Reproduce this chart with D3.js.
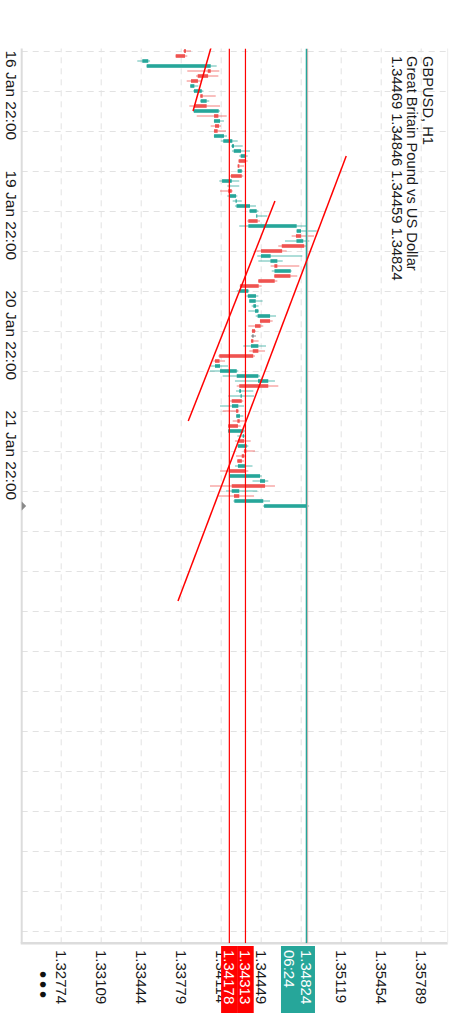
<!DOCTYPE html>
<html>
<head>
<meta charset="utf-8">
<script src="https://cdn.jsdelivr.net/npm/d3@7"></script>
<style>
  html, body { margin: 0; padding: 0; background: #fff; }
  svg { display: block; font-family: "Liberation Sans", Arial, sans-serif; }
</style>
</head>
<body>
<svg id="chart" width="450" height="1025"></svg>
<script>
// chart data (hourly bars, index 0 = 16 Jan 22:00)
const symbol = "GBPUSD, H1"
const description = "Great Britain Pound vs US Dollar"

const opens = [
  1.33815, 1.33807, 1.33449, 1.33486, 1.34022, 1.34000, 1.33915, 1.33851, 1.33882, 1.33955,
  1.33938, 1.33988, 1.33880, 1.34086, 1.34050, 1.34092, 1.34080, 1.34050, 1.34127, 1.34200,
  1.34215, 1.34273, 1.34310, 1.34262, 1.34248, 1.34282, 1.34117, 1.34175, 1.34198, 1.34178,
  1.34230, 1.34238, 1.34348, 1.34405, 1.34415, 1.34337, 1.34742, 1.34778, 1.34740, 1.34805,
  1.34620, 1.34443, 1.34522, 1.34580, 1.34556, 1.34690, 1.34558, 1.34424, 1.34262, 1.34333,
  1.34345, 1.34379, 1.34393, 1.34415, 1.34519, 1.34440, 1.34393, 1.34380, 1.34379, 1.34359,
  1.34421, 1.34378, 1.34096, 1.34058, 1.34100, 1.34240, 1.34418, 1.34504, 1.34261, 1.34272,
  1.34282, 1.34200, 1.34253, 1.34236, 1.34265, 1.34250, 1.34169, 1.34290, 1.34301, 1.34250,
  1.34320, 1.34303, 1.34283, 1.34250, 1.34310, 1.34180, 1.34435, 1.34477, 1.34198, 1.34261,
  1.34220, 1.34469
]
const highs = [
  1.33857, 1.33826, 1.33514, 1.34072, 1.34094, 1.34086, 1.33947, 1.33918, 1.33960, 1.34064,
  1.34010, 1.34100, 1.34100, 1.34156, 1.34133, 1.34108, 1.34150, 1.34158, 1.34248, 1.34290,
  1.34351, 1.34332, 1.34332, 1.34301, 1.34290, 1.34295, 1.34261, 1.34261, 1.34206, 1.34245,
  1.34282, 1.34401, 1.34421, 1.34496, 1.34435, 1.34820, 1.34910, 1.34887, 1.34848, 1.34826,
  1.34658, 1.34789, 1.34625, 1.34764, 1.34700, 1.34747, 1.34580, 1.34449, 1.34345, 1.34421,
  1.34457, 1.34423, 1.34426, 1.34569, 1.34541, 1.34462, 1.34401, 1.34401, 1.34423, 1.34485,
  1.34477, 1.34393, 1.34142, 1.34167, 1.34253, 1.34435, 1.34560, 1.34588, 1.34379, 1.34385,
  1.34295, 1.34301, 1.34261, 1.34295, 1.34309, 1.34273, 1.34309, 1.34309, 1.34357, 1.34337,
  1.34393, 1.34318, 1.34301, 1.34372, 1.34337, 1.34449, 1.34504, 1.34560, 1.34412, 1.34385,
  1.34519, 1.34846
]
const lows = [
  1.33790, 1.33727, 1.33407, 1.33484, 1.33826, 1.33899, 1.33821, 1.33849, 1.33874, 1.33932,
  1.33932, 1.33843, 1.33874, 1.33905, 1.34048, 1.34022, 1.34048, 1.34048, 1.34106, 1.34192,
  1.34200, 1.34261, 1.34254, 1.34246, 1.34246, 1.34184, 1.34094, 1.34161, 1.34100, 1.34161,
  1.34206, 1.34225, 1.34343, 1.34401, 1.34328, 1.34261, 1.34740, 1.34700, 1.34644, 1.34588,
  1.34407, 1.34412, 1.34421, 1.34524, 1.34533, 1.34552, 1.34418, 1.34265, 1.34240, 1.34321,
  1.34343, 1.34365, 1.34337, 1.34399, 1.34433, 1.34337, 1.34365, 1.34359, 1.34358, 1.34295,
  1.34345, 1.34086, 1.34044, 1.34022, 1.34016, 1.34122, 1.34225, 1.34240, 1.34234, 1.34169,
  1.34184, 1.34100, 1.34122, 1.34234, 1.34206, 1.34167, 1.34167, 1.34245, 1.34225, 1.34243,
  1.34298, 1.34234, 1.34243, 1.34225, 1.34100, 1.34178, 1.34372, 1.34016, 1.34150, 1.34086,
  1.34212, 1.34459
]
const closes = [
  1.33798, 1.33729, 1.33499, 1.34022, 1.33997, 1.33913, 1.33857, 1.33885, 1.33947, 1.33935,
  1.33988, 1.33882, 1.34089, 1.34050, 1.34100, 1.34058, 1.34050, 1.34133, 1.34203, 1.34217,
  1.34276, 1.34309, 1.34256, 1.34248, 1.34282, 1.34192, 1.34198, 1.34184, 1.34169, 1.34234,
  1.34240, 1.34351, 1.34407, 1.34412, 1.34337, 1.34742, 1.34778, 1.34736, 1.34797, 1.34617,
  1.34443, 1.34524, 1.34580, 1.34555, 1.34692, 1.34555, 1.34421, 1.34267, 1.34337, 1.34401,
  1.34399, 1.34401, 1.34421, 1.34519, 1.34435, 1.34393, 1.34368, 1.34380, 1.34360, 1.34421,
  1.34374, 1.34094, 1.34058, 1.34100, 1.34240, 1.34421, 1.34504, 1.34261, 1.34276, 1.34282,
  1.34198, 1.34253, 1.34234, 1.34267, 1.34245, 1.34169, 1.34295, 1.34301, 1.34253, 1.34323,
  1.34301, 1.34282, 1.34245, 1.34309, 1.34178, 1.34435, 1.34477, 1.34198, 1.34261, 1.34217,
  1.34462, 1.34824
]

const priceTicks = [1.32774, 1.33109, 1.33444, 1.33779, 1.34114, 1.34449, 1.34784, 1.35119, 1.35454, 1.35789]
const timeLabelBars = [0, 24, 48, 72]
const timeLabelTexts = ["16 Jan 22:00", "19 Jan 22:00", "20 Jan 22:00", "21 Jan 22:00"]

const levelPrices = [1.34313, 1.34178]
const askPrice = 1.34834
const countdown = "06:24"

// trend lines as [bar, price] end points
const trendLines = [
  [[-1, 1.34028], [12, 1.33874]],
  [[30, 1.34560], [74, 1.33834]],
  [[21, 1.35157], [110, 1.33748]]
]

const up = "#26a69a", down = "#ef5350"
const fmt = d3.format(".5f")

// the chart is laid out landscape (1025 x 450) and turned a quarter clockwise
const W = 1025, H = 450
const plot = {left: 48.5, right: 943.3, top: 2.3, bottom: 428.3}

const svg = d3.select("#chart")
const g = svg.append("g").attr("transform", `translate(${H},0) rotate(90)`)

const x = d3.scaleLinear().domain([0, 100]).range([51, 551])
const y = d3.scaleLinear().domain([1.32774, 1.35789]).range([388.3, 28.3])

g.append("clipPath").attr("id", "plotClip")
  .append("rect")
    .attr("x", plot.left).attr("y", plot.top)
    .attr("width", plot.right - plot.left).attr("height", plot.bottom - plot.top)

// time grid + labels
const timeAxis = d3.axisBottom(x)
  .tickValues(d3.range(0, 177, 8))
  .tickSize(-(plot.bottom - plot.top))
  .tickPadding(4.5)
  .tickFormat(d => {
    let k = timeLabelBars.indexOf(d)
    return k >= 0 ? timeLabelTexts[k] : ""
  })

g.append("g")
  .attr("transform", `translate(0,${plot.bottom})`)
  .call(timeAxis)
  .call(a => a.select(".domain").remove())
  .call(a => a.selectAll("line")
    .attr("stroke", "#e2e2e2").attr("stroke-dasharray", "6,5"))
  .call(a => a.selectAll("text")
    .attr("text-anchor", "start").attr("dx", -1)
    .attr("fill", "#1a1a1a").style("font-size", "15.5px"))

// price grid + labels
const priceAxis = d3.axisRight(y)
  .tickValues(priceTicks)
  .tickSize(-(plot.right - plot.left))
  .tickPadding(6.7)
  .tickFormat(fmt)

g.append("g")
  .attr("transform", `translate(${plot.right},0)`)
  .call(priceAxis)
  .call(a => a.select(".domain").remove())
  .call(a => a.selectAll("line")
    .attr("stroke", "#e2e2e2").attr("stroke-dasharray", "6,5"))
  .call(a => a.selectAll("text")
    .attr("fill", "#1a1a1a").style("font-size", "15px"))

// frame
g.append("line")
  .attr("x1", plot.left).attr("x2", plot.right)
  .attr("y1", plot.bottom).attr("y2", plot.bottom)
  .attr("stroke", "#dcdcdc").attr("stroke-width", 2)
g.append("line")
  .attr("x1", plot.right).attr("x2", plot.right)
  .attr("y1", plot.top).attr("y2", plot.bottom + 1)
  .attr("stroke", "#dcdcdc").attr("stroke-width", 2.5)
g.append("line")
  .attr("x1", plot.left).attr("x2", plot.right)
  .attr("y1", plot.top).attr("y2", plot.top)
  .attr("stroke", "#ececec").attr("stroke-width", 1)

// title
g.append("g").selectAll("text")
  .data([symbol, description, [opens, highs, lows, closes].map(s => fmt(s[s.length - 1])).join(" ")])
  .enter().append("text")
    .attr("x", 56)
    .attr("y", (d, i) => 27.3 + i * 15.6)
    .attr("fill", "#1a1a1a")
    .style("font-size", "14.7px")
    .text(d => d)

const bars = d3.range(opens.length).map(i => ({
  i: i, o: opens[i], h: highs[i], l: lows[i], c: closes[i]
}))
const colorOf = d => d.c > d.o ? up : d.c < d.o ? down : "#5f6368"

const candles = g.append("g").attr("clip-path", "url(#plotClip)")

candles.selectAll("line.wick")
  .data(bars)
  .enter().append("line")
    .attr("class", "wick")
    .attr("x1", d => x(d.i)).attr("x2", d => x(d.i))
    .attr("y1", d => y(d.h)).attr("y2", d => y(d.l))
    .attr("stroke", colorOf)
    .attr("stroke-opacity", 0.75)
    .attr("stroke-width", 1)

candles.selectAll("rect.body")
  .data(bars)
  .enter().append("rect")
    .attr("class", "body")
    .attr("x", d => x(d.i) - 1.8)
    .attr("width", 3.6)
    .attr("y", d => Math.min(y(d.o), y(d.c)))
    .attr("height", d => Math.max(Math.abs(y(d.o) - y(d.c)), 1))
    .attr("fill", colorOf)

// price levels
candles.selectAll("line.level")
  .data(levelPrices)
  .enter().append("line")
    .attr("class", "level")
    .attr("x1", plot.left).attr("x2", plot.right)
    .attr("y1", d => y(d)).attr("y2", d => y(d))
    .attr("stroke", "#ff0000").attr("stroke-width", 1.2)

const bid = closes[closes.length - 1]
candles.append("line")
  .attr("x1", plot.left).attr("x2", plot.right)
  .attr("y1", y(askPrice)).attr("y2", y(askPrice))
  .attr("stroke", "#f3b0b0").attr("stroke-width", 1)
candles.append("line")
  .attr("x1", plot.left).attr("x2", plot.right)
  .attr("y1", y(bid)).attr("y2", y(bid))
  .attr("stroke", up).attr("stroke-width", 1.5)

// trend lines
candles.selectAll("line.trend")
  .data(trendLines)
  .enter().append("line")
    .attr("class", "trend")
    .attr("x1", d => x(d[0][0])).attr("y1", d => y(d[0][1]))
    .attr("x2", d => x(d[1][0])).attr("y2", d => y(d[1][1]))
    .attr("stroke", "#ff0000").attr("stroke-width", 1.5)

// current bar marker on the time axis
const lastX = x(opens.length - 1)
g.append("path")
  .attr("d", `M${lastX - 4.5},${plot.bottom} L${lastX + 4.5},${plot.bottom} L${lastX},${plot.bottom - 4.5} Z`)
  .attr("fill", "#8a8a8a")

// price tags
const tags = g.append("g")
tags.selectAll("rect.lv")
  .data(levelPrices)
  .enter().append("rect")
    .attr("class", "lv")
    .attr("x", plot.right + 2.7).attr("width", 67)
    .attr("y", d => y(d) - 8.25).attr("height", 16.5)
    .attr("fill", "#ff0000")
tags.selectAll("text.lv")
  .data(levelPrices)
  .enter().append("text")
    .attr("class", "lv")
    .attr("x", plot.right + 6.7).attr("y", d => y(d))
    .attr("dy", "0.35em")
    .attr("fill", "#fff")
    .style("font-size", "15px")
    .text(fmt)

tags.append("rect")
  .attr("x", plot.right + 2.7).attr("width", 67)
  .attr("y", y(bid) - 8.5).attr("height", 34)
  .attr("fill", up)
tags.selectAll("text.bid")
  .data([fmt(bid), countdown])
  .enter().append("text")
    .attr("class", "bid")
    .attr("x", plot.right + 6.7)
    .attr("y", (d, i) => y(bid) + i * 16.8)
    .attr("dy", "0.35em")
    .attr("fill", "#fff")
    .style("font-size", "15px")
    .text(d => d)

// menu dots in the corner
g.append("text")
  .attr("x", 986).attr("y", 407.5)
  .attr("dy", "0.35em")
  .attr("text-anchor", "middle")
  .attr("fill", "#111")
  .style("font-size", "20px").style("font-weight", "bold")
  .style("letter-spacing", "3px")
  .text("•••")
</script>
</body>
</html>
